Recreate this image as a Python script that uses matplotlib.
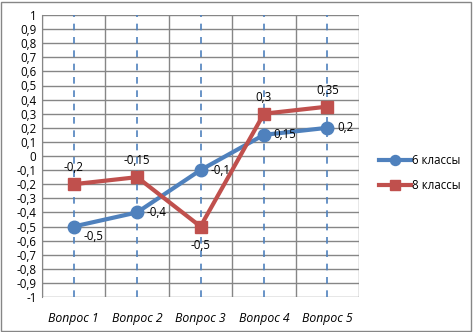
import numpy as np
import matplotlib.pyplot as plt
from matplotlib.patches import Rectangle

plt.rcParams.update({'font.family': ['Open Sans', 'DejaVu Sans'], 'font.size': 8.3})

categories = ['Вопрос 1', 'Вопрос 2', 'Вопрос 3', 'Вопрос 4', 'Вопрос 5']
grade6 = [-0.5, -0.4, -0.1, 0.15, 0.2]
grade8 = [-0.2, -0.15, -0.5, 0.3, 0.35]
yticks = np.round(np.arange(-1, 1.01, 0.1), 1)

blue = '#4f81bd'
red = '#c0504d'
grid = '#868686'

fig = plt.figure(figsize=(4.73, 3.32), dpi=100)
ax = fig.add_axes([42 / 473, 35 / 332, 317 / 473, 282 / 332])
fig.patches.append(Rectangle((0.003, 0.004), 0.992, 0.99, transform=fig.transFigure,
                             fill=False, edgecolor=grid, linewidth=1))

x = np.arange(len(categories))

# horizontal gridlines and category separators
for y in yticks:
    ax.axhline(y, color=grid, linewidth=1, zorder=0)
for b in np.arange(-0.5, len(categories), 1):
    ax.axvline(b, color=grid, linewidth=1, zorder=0)
# drop lines at category centres
for xi in x:
    ax.axvline(xi, color=blue, linewidth=1.2, linestyle=(0, (4, 4)), zorder=1)

ax.plot(x, grade6, color=blue, linewidth=3, marker='o', markersize=9, label='6 классы', zorder=3)
ax.plot(x, grade8, color=red, linewidth=3, marker='s', markersize=9, label='8 классы', zorder=3)

def fmt(v):
    v = 0.0 if abs(v) < 1e-9 else v
    return ('%g' % v).replace('.', ',')

for xi, v in zip(x, grade6):
    dy = -0.07 if xi == 0 else 0
    ax.annotate(fmt(v), (xi, v + dy), xytext=(7, 0), textcoords='offset points',
                ha='left', va='center', zorder=4)
for xi, v in zip(x, grade8):
    if v == -0.5:
        ax.annotate(fmt(v), (xi, v), xytext=(0, -9), textcoords='offset points',
                    ha='center', va='top', zorder=4)
    else:
        ax.annotate(fmt(v), (xi, v), xytext=(0, 7), textcoords='offset points',
                    ha='center', va='bottom', zorder=4)

ax.set_xlim(-0.5, len(categories) - 0.5)
ax.set_ylim(-1, 1)
ax.set_yticks(yticks)
ax.set_yticklabels([fmt(v) for v in yticks])
ax.set_xticks(x)
ax.set_xticklabels(categories, style='italic', fontsize=8.8)
ax.tick_params(axis='both', length=0, pad=4)
ax.tick_params(axis='x', pad=11)
for s in ax.spines.values():
    s.set_visible(False)
ax.spines['left'].set_visible(True)
ax.spines['left'].set_color(grid)

ax.legend(loc='center left', bbox_to_anchor=(1.03, 0.44), frameon=False,
          handlelength=2.8, handletextpad=0.05, labelspacing=1.0, markerscale=0.8)

plt.savefig('out.png', dpi=100)
